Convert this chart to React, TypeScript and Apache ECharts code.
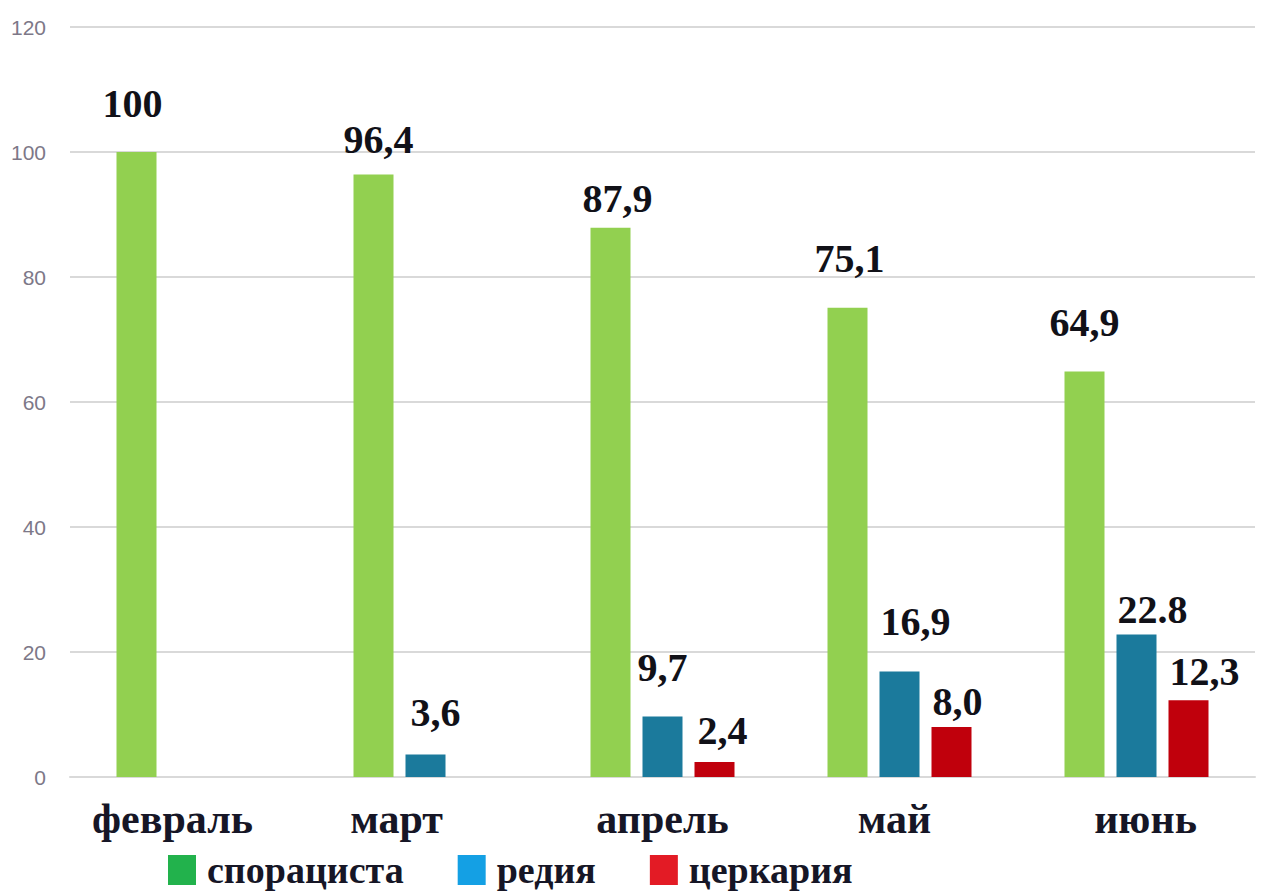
import React, { useEffect, useRef } from "react";
import * as echarts from "echarts";

const categories = ["февраль", "март", "апрель", "май", "июнь"];
const seriesNames = ["спорациста", "редия", "церкария"];
const sporocystValues: (number | null)[] = [100, 96.4, 87.9, 75.1, 64.9];
const rediaValues: (number | null)[] = [null, 3.6, 9.7, 16.9, 22.8];
const cercariaValues: (number | null)[] = [null, null, 2.4, 8.0, 12.3];
const sporocystLabels = ["100", "96,4", "87,9", "75,1", "64,9"];
const rediaLabels = ["", "3,6", "9,7", "16,9", "22.8"];
const cercariaLabels = ["", "", "2,4", "8,0", "12,3"];
const yTicks = { min: 0, max: 120, interval: 20 };

// styling: label placement tweaks (horizontal shift, gap above bar)
const labelDx = [
  [-4, 5, 7, 2, 0],
  [0, 10, 0, 16, 16],
  [0, 0, 8, 6, 16],
];
const labelGap = [
  [35, 21, 15, 35, 35],
  [0, 28, 35, 36, 11],
  [0, 0, 18, 12, 15],
];
const xLabelShift = [-16, -29, 0, -5, 9];

const barColors = ["#92d050", "#1b7a9c", "#c0000c"];
const legendColors = ["#22b24c", "#14a0e4", "#e31b25"];
const serif = "'Liberation Serif', 'DejaVu Serif', serif";
const textDark = "#161626";

export default function App() {
  const ref = useRef<HTMLDivElement>(null);
  useEffect(() => {
    if (!ref.current) return;
    const chart = echarts.init(ref.current, null, { renderer: "svg" });
    const values = [sporocystValues, rediaValues, cercariaValues];
    const labels = [sporocystLabels, rediaLabels, cercariaLabels];
    const rich: Record<string, any> = {};
    xLabelShift.forEach((s, i) => {
      rich["c" + i] = {
        fontFamily: serif,
        fontWeight: "bold",
        fontSize: 42,
        color: textDark,
        padding: s < 0 ? [0, -2 * s, 0, 0] : [0, 0, 0, 2 * s],
      };
    });
    chart.setOption({
      animation: false,
      backgroundColor: "#ffffff",
      grid: { left: 70, right: 7, top: 27, bottom: 117, containLabel: false },
      legend: {
        left: 163,
        top: 846,
        itemWidth: 28,
        itemHeight: 30,
        itemGap: 54,
        icon: "rect",
        textStyle: {
          fontFamily: serif,
          fontWeight: "bold",
          fontSize: 38,
          lineHeight: 32,
          color: textDark,
          padding: [0, 0, 0, 6],
        },
        data: seriesNames.map((n, i) => ({ name: n, itemStyle: { color: legendColors[i] } })),
      },
      xAxis: {
        type: "category",
        data: categories,
        axisLine: { show: true, lineStyle: { color: "#d9d9d9", width: 2 } },
        axisTick: { show: false },
        axisLabel: {
          interval: 0,
          hideOverlap: false,
          fontFamily: serif,
          fontWeight: "bold",
          fontSize: 42,
          color: textDark,
          margin: 21,
          formatter: (v: string, i: number) => `{c${i}|${v}}`,
          rich,
        },
      },
      yAxis: {
        type: "value",
        min: yTicks.min,
        max: yTicks.max,
        interval: yTicks.interval,
        axisLine: { show: false },
        axisTick: { show: false },
        splitLine: { lineStyle: { color: "#d9d9d9", width: 2 } },
        axisLabel: {
          fontFamily: "'Liberation Sans', sans-serif",
          fontSize: 21,
          color: "#7d7888",
          margin: 24,
        },
      },
      series: seriesNames.map((name, si) => ({
        name,
        type: "bar",
        barWidth: 40,
        barGap: "30%",
        itemStyle: { color: barColors[si] },
        data: values[si].map((v, i) => ({
          value: v,
          label: {
            formatter: labels[si][i],
            distance: labelGap[si][i] - 6,
            offset: [labelDx[si][i], 0],
          },
        })),
        label: {
          show: true,
          position: "top",
          fontFamily: serif,
          fontWeight: "bold",
          fontSize: 40,
          color: "#111118",
        },
      })),
    });
    return () => chart.dispose();
  }, []);
  return (
    <div
      ref={ref}
      style={{ position: "absolute", left: 0, top: 0, width: 1262, height: 894 }}
    />
  );
}
